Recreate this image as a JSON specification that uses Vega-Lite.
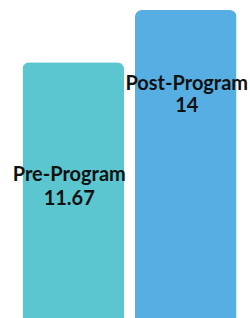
{
  "$schema": "https://vega.github.io/schema/vega-lite/v6.json",
  "width": 241,
  "height": 323,
  "autosize": "none",
  "padding": {"left": 9, "right": 0, "top": 0, "bottom": 0},
  "background": "white",
  "config": {"view": {"stroke": null}},
  "data": {"values": [
    {"stage": "Pre-Program", "value": 11.67, "label": "11.67"},
    {"stage": "Post-Program", "value": 14, "label": "14"}
  ]},
  "encoding": {
    "x": {"field": "stage", "type": "nominal", "sort": null, "axis": null,
      "scale": {"paddingInner": 0.0978, "paddingOuter": 0.12}},
    "y": {"field": "value", "type": "quantitative", "axis": null,
      "scale": {"domain": [0, 14.45], "nice": false}}
  },
  "layer": [
    {
      "mark": {"type": "bar", "cornerRadiusEnd": 7},
      "encoding": {
        "color": {"field": "stage", "type": "nominal", "legend": null,
          "scale": {"domain": ["Pre-Program", "Post-Program"], "range": ["#5BC6CF", "#56AEE2"]}}
      }
    },
    {
      "transform": [{"filter": "datum.stage == 'Pre-Program'"}],
      "mark": {"type": "text", "font": "Lato", "fontWeight": "bold", "fontSize": 20, "color": "#111111",
        "baseline": "top", "align": "center", "lineHeight": 24, "dy": 103, "dx": -4},
      "encoding": {"text": {"value": ["Pre-Program", "11.67"]}}
    },
    {
      "transform": [{"filter": "datum.stage == 'Post-Program'"}],
      "mark": {"type": "text", "font": "Lato", "fontWeight": "bold", "fontSize": 20, "color": "#111111",
        "baseline": "top", "align": "center", "lineHeight": 22, "dy": 64, "dx": 1},
      "encoding": {"text": {"value": ["Post-Program", "14"]}}
    }
  ]
}
